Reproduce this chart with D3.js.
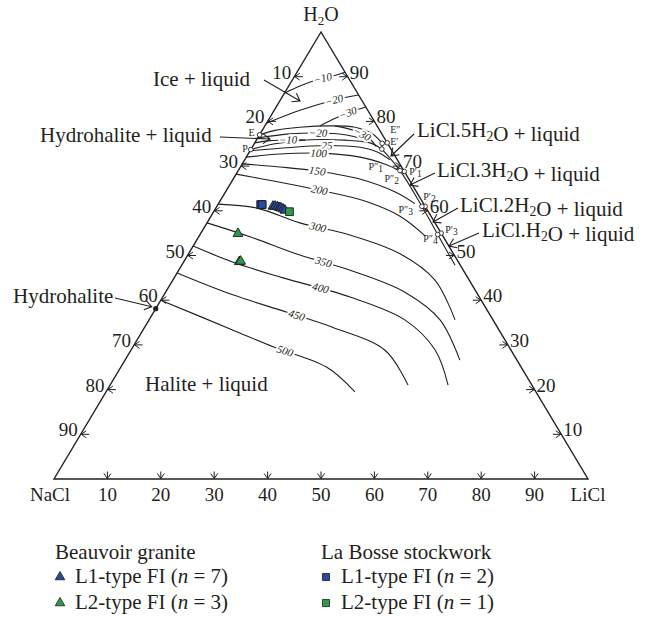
<!DOCTYPE html>
<html><head><meta charset="utf-8">
<script src="https://cdn.jsdelivr.net/npm/d3@7"></script>
<style>
body{margin:0;background:#fff}
svg{display:block}
text{font-family:"Liberation Serif","Times New Roman",serif;fill:#231f20}
</style></head><body>
<svg id="c" width="653" height="617"></svg>
<script>
// ===== DATA: compositions as [wt% NaCl, wt% LiCl]; H2O = 100 - NaCl - LiCl =====
const axisTicks = [10,20,30,40,50,60,70,80,90];

// ice-field isotherms (°C)
const iceM10 = [[13.7,0],[10.0,2.1],[6.1,4.6],[2.9,7.0],[0,9.0]];
const iceM20 = [[20.4,0],[12.7,4.8],[5.0,10.2],[0,14.1]];
const iceM30 = [[10.7,10.3],[7.5,12.0],[4.0,14.1],[0,16.8]];
// cotectic curves
const cotE = [[23.0,0],[19.6,2.4],[14.6,6.7],[8.8,12.2],[4.3,17.0],[1.8,20.9],[1.0,23.9]];
const cotP = [[26.3,0],[21.1,3.9],[14.1,10.0],[7.6,16.6],[3.2,21.6],[1.7,24.5]];
const cotHalite = [[1.7,24.5],[0.7,30.3],[0.6,38.4],[0.8,44.5],[1.0,51.2]];
const cotEE = [[1.0,23.9],[0,24.8]];
const cotEP = [[1.0,23.9],[1.7,24.5]];
const perit1 = [[0,31.2],[0.7,30.3]];
const perit2 = [[0,39.0],[0.6,38.4]];
const perit3 = [[0,45.0],[0.8,44.5]];
// hydrohalite-field isotherms
const hhM10 = [[24.8,0],[21.7,2.6],[15.0,9.1]];
const hhM20 = [[23.7,0],[17.2,5.6],[11.9,10.7],[7.0,16.0],[3.8,20.3]];
const hhM30 = [[7.9,13.1],[4.7,17.4],[2.8,21.2],[2.5,23.1]];
// halite-field isotherms
const iso25  = [[26.6,0],[20.7,5.3],[11.6,13.8],[5.6,20.2],[2.8,24.1],[1.4,27.2]];
const iso100 = [[28.0,0],[21.3,6.0],[14.1,13.0],[6.7,21.3],[2.8,26.8],[1.0,29.9]];
const iso150 = [[29.5,0],[22.8,7.4],[16.3,14.8],[9.2,23.7],[4.0,31.8],[1.6,36.8]];
const iso200 = [[31.8,0],[25.3,8.1],[17.9,17.5],[10.7,27.1],[5.8,35.4],[3.3,42.3]];
const iso300 = [[38.5,0],[31.7,7.7],[25.3,17.4],[17.3,28.1],[10.0,39.6],[6.4,49.1],[7.1,57.3]];
const iso350 = [[42.7,0],[36.2,9.6],[28.9,21.0],[21.2,32.1],[13.4,44.8],[9.9,54.5],[10.7,62.7]];
const iso400 = [[47.9,0],[42.2,9.3],[34.6,20.4],[24.2,35.1],[16.5,47.9],[14.2,56.9],[15.7,63.3]];
const iso450 = [[53.9,0],[45.9,12.9],[37.7,25.0],[30.8,35.3],[23.6,47.6],[23.2,55.8]];
const iso500 = [[60.0,0],[49.8,16.9],[44.2,26.2],[36.4,38.6],[33.9,46.6]];

// invariant points
const pointNames = ["E","P","E″","E′","P″1","P′1","P″2","P′2","P″3","P′3","P″4"];
const pointComp  = [[23.0,0],[26.3,0],[1.0,23.9],[0,24.8],[1.7,24.5],[0,31.2],[0.7,30.3],[0,39.0],[0.6,38.4],[0,45.0],[0.8,44.5]];
const hydrohalite = [61.9,0];

// fluid inclusions
const beauvoirL1 = [[28.5,10.5],[28.1,10.9],[27.7,11.4],[27.4,11.9],[27.2,12.2],[26.9,12.7],[26.7,13.2]];
const beauvoirL2 = [[38.1,7.0],[41.0,10.4],[40.7,10.6]];
const labosseL1  = [[30.6,8.0],[30.3,8.3]];
const labosseL2  = [[26.0,14.2]];

// legend content
const legendGroups = ["Beauvoir granite","La Bosse stockwork"];
const legendLabels = ["L1-type FI","L2-type FI","L1-type FI","L2-type FI"];
const legendCounts = [7,3,2,1];

// ===== RENDER =====
const svg = d3.select("#c");
const xScale = d3.scaleLinear().domain([0,100]).range([54,588]);   // LiCl + H2O/2
const yScale = d3.scaleLinear().domain([0,100]).range([479,32]);   // H2O
const proj = ([n,l]) => { const w = 100-n-l; return [xScale(l + w/2), yScale(w)]; };
const line = d3.line().x(d=>proj(d)[0]).y(d=>proj(d)[1]).curve(d3.curveCatmullRom.alpha(0.5));
const ink = "#231f20";

// triangle frame
svg.append("path")
  .attr("d", d3.line()([proj([100,0]), proj([0,100]), proj([0,0])]) + "Z")
  .attr("fill","none").attr("stroke",ink).attr("stroke-width",1.4);

// axes ticks (arrows) & labels
const tickG = svg.append("g").attr("stroke",ink).attr("stroke-width",1).attr("fill","none");
function arrow(g, x, y, dx, dy, len, head){
  const px=-dy, py=dx;
  g.append("path").attr("d",
    `M${x-dx*len},${y-dy*len}L${x},${y}` +
    `M${x-dx*head+px*head*0.7},${y-dy*head+py*head*0.7}L${x},${y}L${x-dx*head-px*head*0.7},${y-dy*head-py*head*0.7}`);
}
axisTicks.forEach(v=>{
  let [x,y] = proj([100-v, v]);
  arrow(tickG, x, y-0.5, 0, 1, 7, 5);
  svg.append("text").attr("x",x).attr("y",y+22).attr("text-anchor","middle").attr("font-size",19).text(v);
  [x,y] = proj([v, 0]);
  arrow(tickG, x+0.5, y, -1, 0, 8, 5);
  svg.append("text").attr("x",x-3).attr("y",y+2).attr("text-anchor","end").attr("font-size",19).text(v);
  [x,y] = proj([0, 100-v]);
  arrow(tickG, x-0.5, y, 1, 0, 8, 5);
  svg.append("text").attr("x",x+2).attr("y",y+2).attr("text-anchor","start").attr("font-size",19).text(v);
});
{
  const [lx,ly] = proj([100,0]), [rx,ry] = proj([0,100]), [ax,ay] = proj([0,0]);
  svg.append("text").attr("x",lx-4).attr("y",ly+22).attr("text-anchor","middle").attr("font-size",19).text("NaCl");
  svg.append("text").attr("x",rx).attr("y",ry+22).attr("text-anchor","middle").attr("font-size",19).text("LiCl");
  const t = svg.append("text").attr("x",ax).attr("y",ay-11).attr("text-anchor","middle").attr("font-size",20);
  t.append("tspan").text("H");
  t.append("tspan").attr("font-size",13).attr("dy",4).text("2");
  t.append("tspan").attr("dy",-4).text("O");
}

// curves
const curveG = svg.append("g").attr("fill","none").attr("stroke",ink).attr("stroke-width",1.1);
const curves = [iceM10,iceM20,iceM30,cotE,cotP,cotHalite,cotEE,cotEP,perit1,perit2,perit3,
                hhM10,hhM20,hhM30,iso25,iso100,iso150,iso200,iso300,iso350,iso400,iso450,iso500];
const paths = curves.map(c => curveG.append("path").attr("d", line(c)));

// isotherm labels along curves
const labelG = svg.append("g");
function curveLabel(path, frac, txt, size){
  const node = path.node(), L = node.getTotalLength();
  const p = node.getPointAtLength(L*frac);
  const a = node.getPointAtLength(Math.max(0,L*frac-3)), b = node.getPointAtLength(Math.min(L,L*frac+3));
  const ang = Math.atan2(b.y-a.y, b.x-a.x)*180/Math.PI;
  labelG.append("text").attr("transform",`translate(${p.x},${p.y}) rotate(${ang})`)
    .attr("text-anchor","middle").attr("dy","0.33em").attr("font-size",size||11).attr("font-style","italic")
    .attr("stroke","#fff").attr("stroke-width",4).attr("paint-order","stroke").text(txt);
}
const isoLabelCurves = [iceM10, iceM20, iceM30, hhM10, hhM20, hhM30, iso25, iso100, iso150, iso200, iso300, iso350, iso400, iso450, iso500];
const isoLabelText   = ["−10","−20","−30","−10","−20","−30","25","100","150","200","300","350","400","450","500"];
const isoLabelFrac   = [0.64,0.74,0.62,0.66,0.56,0.6,0.54,0.47,0.42,0.42,0.37,0.41,0.44,0.48,0.62];
isoLabelCurves.forEach((c,i)=>curveLabel(paths[curves.indexOf(c)], isoLabelFrac[i], isoLabelText[i]));

// invariant points
const ptG = svg.append("g");
pointComp.forEach((c,i)=>{
  const [x,y] = proj(c);
  ptG.append("circle").attr("cx",x).attr("cy",y).attr("r",2.3).attr("fill","#fff").attr("stroke",ink).attr("stroke-width",0.9);
});
const ptLabelDx = [-5,-3,8,3,1,5,-1,-2,-9,4,0];
const ptLabelDy = [1,2,-10,2.5,21,3.5,11,-6,7,0,8];
const ptLabelAnchor = ["end","end","start","start","end","start","end","start","end","start","end"];
pointNames.forEach((nm,i)=>{
  const [x,y] = proj(pointComp[i]);
  const t = ptG.append("text").attr("x",x+ptLabelDx[i]).attr("y",y+ptLabelDy[i]).attr("font-size",10)
    .attr("text-anchor", ptLabelAnchor[i]);
  const base = nm.replace(/\d/,""), sub = nm.match(/\d/);
  t.append("tspan").text(base);
  if(sub) t.append("tspan").attr("dy",2).attr("font-size",9.5).text(sub[0]);
});
{ const [x,y] = proj(hydrohalite); ptG.append("circle").attr("cx",x).attr("cy",y).attr("r",2.6).attr("fill",ink); }

// field labels and leaders
const annG = svg.append("g").attr("stroke",ink).attr("stroke-width",1.1).attr("fill","none");
function leader(x1,y1,x2,y2){
  const dx=x2-x1, dy=y2-y1, d=Math.hypot(dx,dy), ux=dx/d, uy=dy/d;
  arrow(annG, x2, y2, ux, uy, d, 7);
}
function label(x,y,parts,anchor,size){
  const fs = size||21;
  const t = svg.append("text").attr("x",x).attr("y",y).attr("font-size",fs).attr("text-anchor",anchor||"start");
  parts.forEach(p=>{
    if(typeof p==="string") t.append("tspan").text(p);
    else { t.append("tspan").attr("dy",4).attr("font-size",fs*0.65).text(p.sub);
           t.append("tspan").attr("dy",-4).text(""); }
  });
  return t;
}
label(153,86,["Ice + liquid"]);
leader(264,80,300,101);
label(40,142,["Hydrohalite + liquid"]);
leader(220,137,270,139);
label(13,303,["Hydrohalite"]);
{ const [hx,hy] = proj(hydrohalite); leader(115,298,hx-4,hy-2); }
label(145,391,["Halite + liquid"]);
label(417,137,["LiCl.5H",{sub:"2"},"O + liquid"]);
leader(414,134,391,156);
label(437,177,["LiCl.3H",{sub:"2"},"O + liquid"]);
leader(435,173,410,185);
label(460,212,["LiCl.2H",{sub:"2"},"O + liquid"]);
leader(458,208,433,222);
label(482,237,["LiCl.H",{sub:"2"},"O + liquid"]);
leader(479,233,449,246);

// fluid inclusion symbols
const blue = "#2a4a9c", green = "#2e9b4b";
const tri = d3.symbol().type(d3.symbolTriangle).size(42);
const sq  = d3.symbol().type(d3.symbolSquare).size(60);
const symG = svg.append("g").attr("stroke","#1a1a1a").attr("stroke-width",0.9);
beauvoirL1.forEach(c=>{const [x,y]=proj(c); symG.append("path").attr("d",tri()).attr("transform",`translate(${x},${y})`).attr("fill",blue);});
beauvoirL2.forEach(c=>{const [x,y]=proj(c); symG.append("path").attr("d",tri()).attr("transform",`translate(${x},${y})`).attr("fill",green);});
labosseL1.forEach(c=>{const [x,y]=proj(c); symG.append("path").attr("d",sq()).attr("transform",`translate(${x},${y})`).attr("fill",blue);});
labosseL2.forEach(c=>{const [x,y]=proj(c); symG.append("path").attr("d",sq()).attr("transform",`translate(${x},${y})`).attr("fill",green);});

// legend
const legX = [55, 321];
legendGroups.forEach((g,i)=>svg.append("text").attr("x",legX[i]).attr("y",559).attr("font-size",21).text(g));
legendLabels.forEach((lab,i)=>{
  const col = Math.floor(i/2), row = i%2;
  const x = legX[col], y = 583 + row*26;
  const sym = col===0 ? d3.symbol().type(d3.symbolTriangle).size(40)() : d3.symbol().type(d3.symbolSquare).size(50)();
  svg.append("path").attr("d",sym).attr("transform",`translate(${x+5},${y-6})`)
    .attr("fill", row===0?blue:green).attr("stroke","#1a1a1a").attr("stroke-width",0.8);
  const t = svg.append("text").attr("x",x+20).attr("y",y).attr("font-size",21);
  t.append("tspan").text(lab + " (");
  t.append("tspan").attr("font-style","italic").text("n");
  t.append("tspan").text(" = " + legendCounts[i] + ")");
});
</script></body></html>
